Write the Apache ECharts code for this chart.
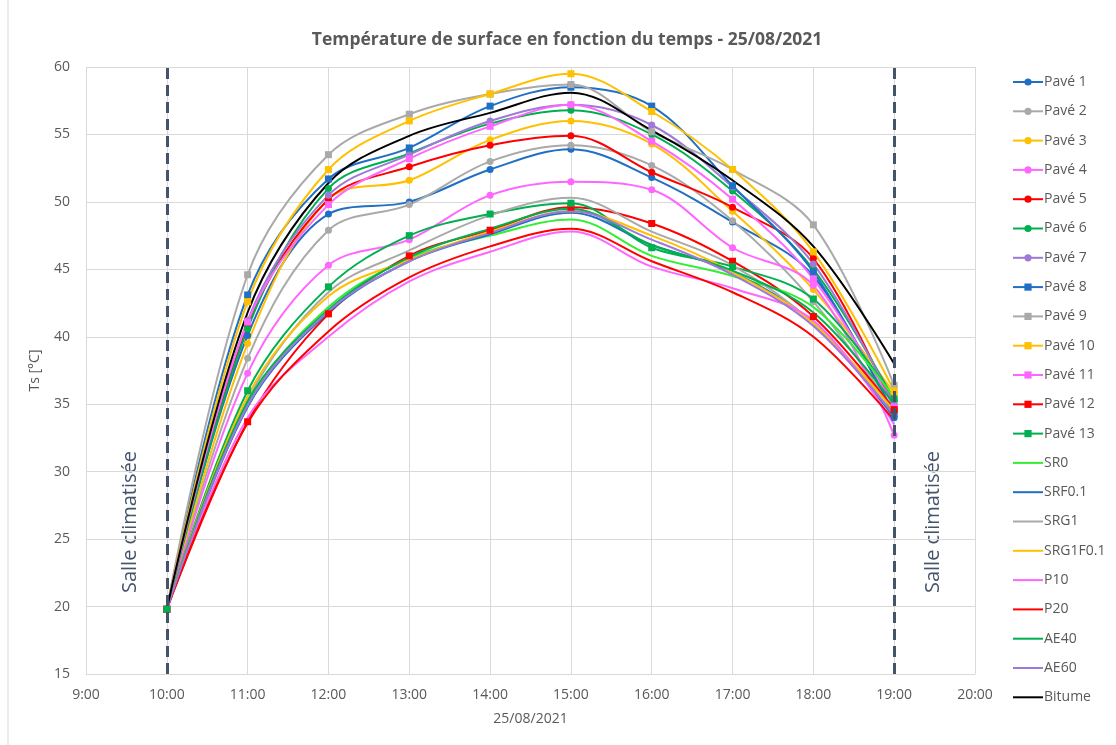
<!DOCTYPE html>
<html>
<head>
<meta charset="utf-8">
<script src="https://cdn.jsdelivr.net/npm/echarts@6/dist/echarts.min.js"></script>
<style>
  html, body {margin: 0; padding: 0; background: #fff;}
  #chart {width: 1116px; height: 745px;}
</style>
</head>
<body>
<div id="chart"></div>
<script>
const hours = [10, 11, 12, 13, 14, 15, 16, 17, 18, 19]
const roomLines = [10, 19]

const pave1 = [19.8, 40.1, 49.1, 50.0, 52.4, 53.9, 51.8, 48.5, 44.5, 34.0]
const pave2 = [19.8, 38.4, 47.9, 49.8, 53.0, 54.2, 52.7, 48.6, 42.6, 34.5]
const pave3 = [19.8, 39.5, 50.2, 51.6, 54.6, 56.0, 54.3, 49.3, 43.5, 35.8]
const pave4 = [19.8, 37.3, 45.3, 47.2, 50.5, 51.5, 50.9, 46.6, 43.8, 32.7]
const pave5 = [19.8, 40.8, 50.2, 52.6, 54.2, 54.9, 52.2, 49.6, 45.8, 34.6]
const pave6 = [19.8, 40.6, 51.0, 53.6, 55.8, 56.8, 55.0, 50.8, 45.0, 35.3]
const pave7 = [19.8, 41.2, 50.5, 53.5, 56.0, 57.2, 55.7, 51.1, 45.4, 35.0]
const pave8 = [19.8, 43.1, 51.7, 54.0, 57.1, 58.5, 57.1, 51.2, 44.8, 34.3]
const pave9 = [19.8, 44.6, 53.5, 56.5, 58.0, 58.7, 55.2, 52.4, 48.3, 36.4]
const pave10 = [19.8, 42.6, 52.4, 56.0, 58.0, 59.5, 56.7, 52.4, 46.3, 36.0]
const pave11 = [19.8, 41.1, 49.8, 53.2, 55.6, 57.2, 54.5, 50.2, 44.3, 34.8]
const pave12 = [19.8, 33.7, 41.7, 46.0, 47.9, 49.6, 48.4, 45.6, 41.5, 34.6]
const pave13 = [19.8, 36.0, 43.7, 47.5, 49.1, 49.9, 46.6, 45.2, 42.8, 35.4]
const sr0 = [19.8, 35.0, 42.2, 45.8, 47.5, 48.7, 46.0, 44.5, 42.2, 35.5]
const srf01 = [19.8, 34.8, 41.8, 45.6, 47.6, 49.2, 46.8, 44.8, 41.0, 34.0]
const srg1 = [19.8, 35.3, 43.3, 46.4, 49.0, 50.3, 47.8, 45.3, 41.0, 34.2]
const srg1f01 = [19.8, 35.6, 43.0, 45.7, 47.8, 49.3, 47.5, 44.8, 41.0, 34.5]
const p10 = [19.8, 34.0, 40.0, 44.1, 46.3, 47.8, 45.2, 43.6, 41.2, 33.5]
const p20 = [19.8, 33.6, 40.4, 44.4, 46.7, 48.0, 45.6, 43.3, 40.0, 33.8]
const ae40 = [19.8, 35.2, 42.0, 45.9, 48.0, 49.5, 46.8, 44.9, 41.8, 35.0]
const ae60 = [19.8, 34.9, 41.9, 45.6, 47.7, 49.3, 47.2, 44.6, 40.8, 34.2]
const bitume = [19.8, 41.8, 51.4, 54.9, 56.6, 58.1, 55.3, 51.6, 46.7, 38.0]

const BLUE = '#1f6fc4'
const GRAY = '#a9a9a9'
const YELLOW = '#ffc000'
const PINK = '#ff66ff'
const RED = '#ff0000'
const GREEN = '#00b050'
const PURPLE = '#9e79d8'

const seriesDefs = [
  ['Pavé 1', pave1, BLUE, 'circle'],
  ['Pavé 2', pave2, GRAY, 'circle'],
  ['Pavé 3', pave3, YELLOW, 'circle'],
  ['Pavé 4', pave4, PINK, 'circle'],
  ['Pavé 5', pave5, RED, 'circle'],
  ['Pavé 6', pave6, GREEN, 'circle'],
  ['Pavé 7', pave7, PURPLE, 'circle'],
  ['Pavé 8', pave8, BLUE, 'rect'],
  ['Pavé 9', pave9, GRAY, 'rect'],
  ['Pavé 10', pave10, YELLOW, 'rect'],
  ['Pavé 11', pave11, PINK, 'rect'],
  ['Pavé 12', pave12, RED, 'rect'],
  ['Pavé 13', pave13, GREEN, 'rect'],
  ['SR0', sr0, '#33ee33', 'none'],
  ['SRF0.1', srf01, BLUE, 'none'],
  ['SRG1', srg1, GRAY, 'none'],
  ['SRG1F0.1', srg1f01, YELLOW, 'none'],
  ['P10', p10, PINK, 'none'],
  ['P20', p20, RED, 'none'],
  ['AE40', ae40, GREEN, 'none'],
  ['AE60', ae60, PURPLE, 'none'],
  ['Bitume', bitume, '#000000', 'none']
]

const textColor = '#595959'
const font = 'Open Sans'
const roomColor = '#44546a'

const series = seriesDefs.map(([name, values, color, symbol]) => ({
  name,
  type: 'line',
  data: values.map((v, i) => [hours[i], v]),
  smooth: 0.35,
  symbol,
  symbolSize: 7,
  showSymbol: symbol !== 'none',
  color,
  lineStyle: {width: 2, color},
  itemStyle: {color},
  emphasis: {disabled: true}
}))

series.unshift({
  name: 'room',
  type: 'line',
  data: [],
  silent: true,
  markLine: {
    silent: true,
    symbol: 'none',
    label: {show: false},
    lineStyle: {color: roomColor, width: 3, type: [11, 6]},
    data: roomLines.map(x => ({xAxis: x}))
  }
})

const legendData = seriesDefs.map(([name, , , symbol]) => (
  symbol === 'none' ? {name, itemStyle: {opacity: 0}} : {name}
))

const chart = echarts.init(document.getElementById('chart'), null, {renderer: 'canvas'})
chart.setOption({
  animation: false,
  backgroundColor: '#fff',
  textStyle: {fontFamily: font},
  title: {
    text: 'Température de surface en fonction du temps - 25/08/2021',
    left: 562,
    textAlign: 'center',
    top: 26,
    textStyle: {fontFamily: font, fontSize: 17.5, fontWeight: 'bold', color: textColor}
  },
  grid: {left: 86, right: 141, top: 67, bottom: 71},
  legend: {
    orient: 'vertical',
    left: 1012,
    top: 75,
    padding: 0,
    itemWidth: 30,
    itemHeight: 9,
    itemGap: 15.3,
    textStyle: {fontFamily: font, fontSize: 14, lineHeight: 14, color: textColor, padding: [0, 0, 0, -4]},
    data: legendData
  },
  xAxis: {
    type: 'value',
    min: 9,
    max: 20,
    interval: 1,
    name: '25/08/2021',
    nameLocation: 'middle',
    nameGap: 38,
    nameTextStyle: {fontFamily: font, fontSize: 14, color: textColor},
    axisLine: {show: true, lineStyle: {color: '#d9d9d9'}},
    axisTick: {show: false},
    axisLabel: {formatter: v => v + ':00', fontSize: 14, color: textColor, margin: 14},
    splitLine: {show: true, lineStyle: {color: '#d9d9d9'}}
  },
  yAxis: {
    type: 'value',
    min: 15,
    max: 60,
    interval: 5,
    name: 'Ts [°C]',
    nameLocation: 'middle',
    nameGap: 44,
    nameRotate: 90,
    nameTextStyle: {fontFamily: font, fontSize: 14, color: textColor},
    axisLine: {show: false},
    axisTick: {show: false},
    axisLabel: {fontSize: 14, color: textColor, margin: 16},
    splitLine: {show: true, lineStyle: {color: '#d9d9d9'}}
  },
  graphic: [
    {
      type: 'rect',
      shape: {x: 8, y: -10, width: 1200, height: 800},
      style: {fill: 'none', stroke: '#d9d9d9', lineWidth: 1},
      silent: true,
      z: -1
    },
    {
      type: 'text',
      x: 130, y: 522,
      rotation: Math.PI / 2,
      style: {text: 'Salle climatisée', fill: roomColor, font: '20px "Open Sans"', textAlign: 'center', textVerticalAlign: 'middle'}
    },
    {
      type: 'text',
      x: 933, y: 522,
      rotation: Math.PI / 2,
      style: {text: 'Salle climatisée', fill: roomColor, font: '20px "Open Sans"', textAlign: 'center', textVerticalAlign: 'middle'}
    }
  ],
  series
})
</script>
</body>
</html>
